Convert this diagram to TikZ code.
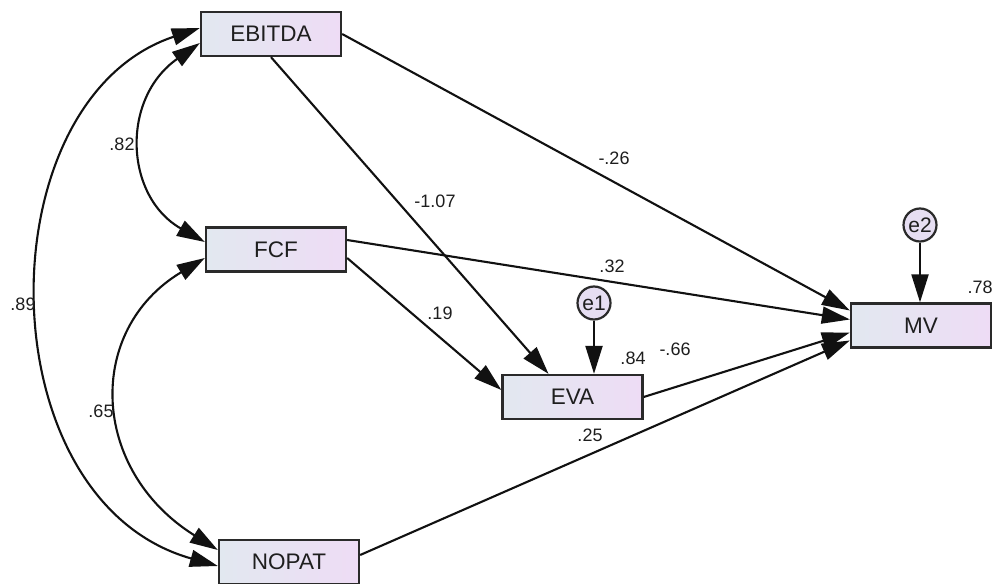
\documentclass[tikz,border=0pt]{standalone}
\usepackage{fontspec}
\setmainfont{Liberation Sans}
\usetikzlibrary{arrows.meta,calc}
\definecolor{boxL}{HTML}{E2E8F0}
\definecolor{boxR}{HTML}{EEDCF5}
\definecolor{errfill}{HTML}{E6DEF2}
\definecolor{boxborder}{HTML}{2A2A2A}
\definecolor{edgecol}{HTML}{111111}
\definecolor{txt}{HTML}{1E1E1E}
\begin{document}
\begin{tikzpicture}[x=1pt,y=-1pt,
  obsbox/.style={draw=boxborder, line width=2.3pt, left color=boxL, right color=boxR,
    minimum width=140pt, minimum height=44pt, inner sep=0pt,
    font=\fontsize{22.5}{24}\selectfont, text=txt},
  errc/.style={circle, draw=boxborder, line width=2.2pt, fill=errfill, minimum size=33pt,
    inner sep=0pt, font=\fontsize{21}{22}\selectfont, text=txt},
  arr/.style={draw=edgecol, line width=2.1pt, -{Triangle[length=28pt,width=17pt]}},
  cov/.style={draw=edgecol, line width=2.1pt,
    {Triangle[length=28pt,width=17pt]}-{Triangle[length=28pt,width=17pt]}},
  lab/.style={font=\fontsize{18}{20}\selectfont, text=txt, inner sep=0pt}]
\useasboundingbox (0,0) rectangle (1000,583);
\fill[white] (0,0) rectangle (1000,583);

% nodes
\node[obsbox] (EBITDA) at (271,34) {EBITDA};
\node[obsbox] (FCF) at (276,249.5) {FCF};
\node[obsbox] (NOPAT) at (289,562) {NOPAT};
\node[obsbox] (EVA) at (572.5,397) {EVA};
\node[obsbox] (MV) at (921,325.5) {MV};
\node[errc] (e1) at (594,303) {e1};
\node[errc] (e2) at (920,225) {e2};

% regression paths
\draw[arr] (EBITDA.east) -- ([yshift=15pt]MV.west);
\draw[arr] ([yshift=9.5pt]FCF.east) -- ([yshift=6pt]MV.west);
\draw[arr] (EVA.east) -- ([yshift=-7pt]MV.west);
\draw[arr] ([yshift=7pt]NOPAT.east) -- ([yshift=-15pt]MV.west);
\draw[arr] (EBITDA.south) -- ([xshift=-24pt]EVA.north);
\draw[arr] ([yshift=-8.5pt]FCF.east) -- ([yshift=7pt]EVA.west);
\draw[arr] (e1.south) -- (e1.south |- EVA.north);
\draw[arr] (e2.south) -- (e2.south |- MV.north);

% covariances
\draw[cov] ([yshift=-9pt]EBITDA.west) .. controls (120,99) and (125,197) .. ([yshift=7.5pt]FCF.west);
\draw[cov] ([yshift=6pt]EBITDA.west) .. controls (-16,100) and (-16,500) .. ([yshift=-4pt]NOPAT.west);
\draw[cov] ([yshift=-8.5pt]FCF.west) .. controls (85,330) and (90,470) .. ([yshift=12pt]NOPAT.west);

% labels
\node[lab] (l82) at (122,144) {.82};
\node[lab] (l89) at (23,304) {.89};
\node[lab] (l65) at (101,411) {.65};
\node[lab] (l107) at (435,201) {-1.07};
\node[lab] (l26) at (614,158) {-.26};
\node[lab] (l32) at (612,266) {.32};
\node[lab] (l19) at (440,313) {.19};
\node[lab] (l84) at (633,358) {.84};
\node[lab] (l66) at (675,349) {-.66};
\node[lab] (l25) at (590,435) {.25};
\node[lab] (l78) at (980,287) {.78};
\end{tikzpicture}
\end{document}
